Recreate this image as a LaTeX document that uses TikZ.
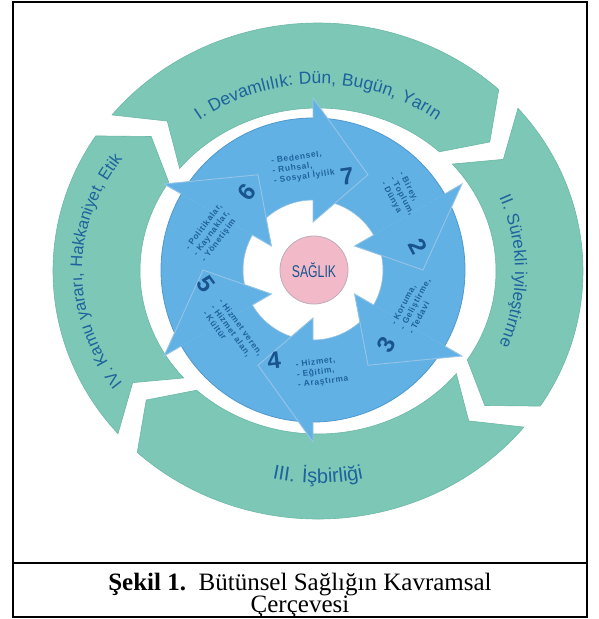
\documentclass[tikz,border=0pt]{standalone}
\usepackage{fontspec}
\setmainfont{Liberation Serif}
\setsansfont{Liberation Sans}
\usetikzlibrary{decorations.text}

\definecolor{ringgreen}{RGB}{124,199,181}
\definecolor{ringedge}{RGB}{108,184,166}
\definecolor{diskblue}{RGB}{98,177,228}
\definecolor{diskedge}{RGB}{78,152,205}
\definecolor{splitline}{RGB}{150,196,230}
\definecolor{labelblue}{RGB}{30,98,158}
\definecolor{numblue}{RGB}{26,84,142}
\definecolor{corepink}{RGB}{242,186,200}
\definecolor{coreedge}{RGB}{190,170,185}

\tikzset{
  ringarrow/.style={fill=ringgreen, draw=ringedge, line width=0.6pt},
  diskpart/.style={fill=diskblue},
  headline/.style={draw=splitline, line width=0.9pt},
  ringtext/.style n args={3}{decorate, decoration={text along path, text align=center,
      text={|\sffamily\fontsize{#1}{#1}\selectfont\addfontfeature{LetterSpace=#2}\color{labelblue}|#3}}},
  itemlist/.style={font=\sffamily\bfseries\fontsize{8.4}{10}\selectfont\addfontfeature{LetterSpace=8},
      text=labelblue, align=left, inner sep=0pt},
  bignum/.style={font=\sffamily\bfseries\fontsize{24}{24}\selectfont, text=numblue, inner sep=0pt},
}

\begin{document}
\begin{tikzpicture}[x=1pt, y=1pt]
    \useasboundingbox (0,0) rectangle (599,-619);

    % outer ring of four arrows
    \begin{scope}[shift={(318,-271)}]
        \foreach \b/\h in {141/47, 41/-33, -39/-133, -139/-213}
            \filldraw[ringarrow] (\b:265pt and 248pt)
                arc[start angle=\b, end angle=\h, x radius=265pt, y radius=248pt]
                -- ({\h-8}:221pt and 205pt) -- (\h:178pt and 163pt)
                arc[start angle=\h, end angle=\b, x radius=178pt, y radius=163pt]
                -- ({\b-8}:221pt and 205pt) -- cycle;
        \path[ringtext={17.5}{3}{I. Devamlılık: Dün, Bugün, Yarın}] (165:200pt and 187pt)
            arc[start angle=165, end angle=15, x radius=200pt, y radius=187pt];
        \path[ringtext={17}{2}{II. Sürekli iyileştirme}] (60:197pt and 187pt)
            arc[start angle=60, end angle=-60, x radius=197pt, y radius=187pt];
        \path[ringtext={20}{8}{III. İşbirliği}] (235:220pt and 212pt)
            arc[start angle=235, end angle=305, x radius=220pt, y radius=212pt];
        \path[ringtext={16.5}{2}{IV. Kamu yararı, Hakkaniyet, Etik}] (230:236pt and 200pt)
            arc[start angle=230, end angle=130, x radius=236pt, y radius=200pt];
    \end{scope}

    % inner disc of six arrows
    \begin{scope}[shift={(313,-270)}]
        \foreach \h in {90,30,-30,-90,-150,150}
            \fill[diskpart] ({\h+60}:152pt) arc[start angle=\h+60, end angle=\h, radius=152pt]
                -- (\h:70pt) arc[start angle=\h, end angle=\h+60, radius=70pt] -- cycle;
        \draw[diskedge, line width=0.8pt] (0,0) circle[radius=152pt];
        \draw[diskedge!60, line width=0.6pt] (0,0) circle[radius=70pt];
        \foreach \h in {90,30,-30,-90,-150,150} {
            \fill[diskpart] (\h:172pt) -- ({\h-30}:110pt) -- (\h:48pt) -- cycle;
            \draw[headline] (\h:152pt) -- (\h:172pt) -- ({\h-30}:110pt) -- (\h:48pt) -- (\h:70pt);
        }
    \end{scope}

    \node[itemlist, rotate=8] (list7) at (303,-167) {- Bedensel,\\- Ruhsal,\\- Sosyal İyilik};
    \node[bignum, rotate=8] (num7) at (347,-176) {7};
    \node[itemlist, rotate=-62] (list2) at (402,-196) {- Birey,\\- Toplum,\\- Dünya};
    \node[bignum, rotate=-62] (num2) at (418,-246) {2};
    \node[itemlist, rotate=62] (list3) at (415,-304) {- Koruma,\\- Geliştirme,\\- Tedavi};
    \node[bignum, rotate=62] (num3) at (386,-345) {3};
    \node[itemlist, rotate=7] (list4) at (322,-372) {- Hizmet,\\- Eğitim,\\- Araştırma};
    \node[bignum, rotate=7] (num4) at (274,-360) {4};
    \node[itemlist, rotate=-54] (list5) at (233,-333) {- Hizmet veren,\\- Hizmet alan,\\- Kültür};
    \node[bignum, rotate=-54] (num5) at (206,-284) {5};
    \node[itemlist, rotate=53] (list6) at (212,-233) {- Politikalar,\\- Kaynaklar,\\- Yönetişim};
    \node[bignum, rotate=53] (num6) at (247,-192) {6};

    \node[circle, fill=corepink, draw=coreedge, line width=0.8pt, minimum size=68pt, inner sep=0pt,
        text=numblue, font=\sffamily\fontsize{17}{17}\selectfont] (core) at (314,-270)
        {\scalebox{0.72}[1]{SAĞLIK}};

    % frame and caption
    \draw[line width=1.6pt] (13,-2) rectangle (587,-617);
    \draw[line width=1.6pt] (13,-563) -- (587,-563);
    \node[font=\fontsize{25}{22}\selectfont, align=center, inner sep=0pt, anchor=north] (cap)
        at (300,-573) {\textbf{Şekil 1.}\ \ Bütünsel Sağlığın Kavramsal\\Çerçevesi};
\end{tikzpicture}
\end{document}
